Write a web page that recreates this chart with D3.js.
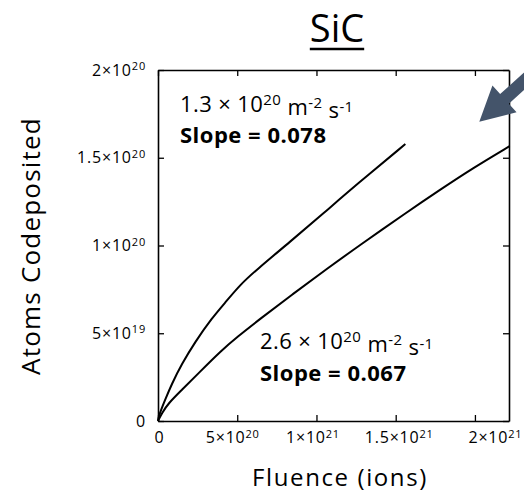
<!DOCTYPE html>
<html>
<head>
<meta charset="utf-8">
<script src="https://cdn.jsdelivr.net/npm/d3@7"></script>
<style>
  body { margin: 0; background: #fff; }
  svg { font-family: "Open Sans", sans-serif; }
</style>
</head>
<body>
<div id="chart"></div>
<script>
// data (fluence in ions, atoms codeposited)
const fluenceLow = [0, 0.02e20, 0.063e20, 0.189e20, 0.441e20, 0.863e20, 1.494e20, 2.332e20, 3.385e20, 4.33e20, 5.17e20, 6.22e20, 8.32e20, 10.42e20, 12.62e20, 15.61e20];
const atomsLow   = [0, 1.2e18, 2.8e18, 6.25e18, 11.9e18, 21.0e18, 32.4e18, 44.9e18, 58.5e18, 68.4e18, 77.5e18, 86.2e18, 102.0e18, 118.2e18, 135.4e18, 157.8e18];

const fluenceHigh = [0, 0.252e20, 0.649e20, 1.494e20, 2.54e20, 4.015e20, 4.96e20, 6.43e20, 8.53e20, 10.63e20, 12.73e20, 15.68e20, 17.77e20, 19.87e20, 22.19e20];
const atomsHigh   = [0, 4.55e18, 10.06e18, 17.6e18, 27.1e18, 40.3e18, 47.6e18, 58.1e18, 72.5e18, 86.5e18, 100.2e18, 118.8e18, 131.6e18, 144.1e18, 156.6e18];

const xTicks = [0, 5e20, 1e21, 1.5e21, 2e21];
const yTicks = [0, 5e19, 1e20, 1.5e20, 2e20];

const fluxLabels = ["1.3", "2.6"];
const slopeLabels = ["0.078", "0.067"];

const W = 524, H = 492;
const margin = {top: 70, right: 15, bottom: 71, left: 158};
const width = W - margin.left - margin.right,
      height = H - margin.top - margin.bottom;

const svg = d3.select("#chart").append("svg")
  .attr("width", W)
  .attr("height", H);

const g = svg.append("g")
  .attr("transform", `translate(${margin.left},${margin.top})`);

const x = d3.scaleLinear().domain([0, 2.215e21]).range([0, width]);
const y = d3.scaleLinear().domain([0, 2e20]).range([height, 0]);

// label like 1.5×10^20 with a raised exponent
function sciLabel(sel) {
  sel.each(function(d) {
    const t = d3.select(this).text(null);
    if (d === 0) { t.text("0"); return; }
    const e = Math.floor(Math.log10(d) + 1e-9);
    const m = +(d / Math.pow(10, e)).toFixed(2);
    t.append("tspan").text(m + "×10");
    t.append("tspan").attr("dy", "-0.5em").attr("font-size", "11px").text(e);
  });
}

// axes, ticks inside on all four sides
const xAxis = g.append("g")
  .attr("transform", `translate(0,${height})`)
  .call(d3.axisBottom(x).tickValues(xTicks).tickSize(-6).tickSizeOuter(0).tickPadding(11));
const yAxis = g.append("g")
  .call(d3.axisLeft(y).tickValues(yTicks).tickSize(-6).tickSizeOuter(0).tickPadding(12));
const topAxis = g.append("g")
  .call(d3.axisTop(x).tickValues(xTicks).tickSize(-6).tickSizeOuter(0).tickFormat(""));
const rightAxis = g.append("g")
  .attr("transform", `translate(${width},0)`)
  .call(d3.axisRight(y).tickValues(yTicks).tickSize(-6).tickSizeOuter(0).tickFormat(""));

[xAxis, yAxis, topAxis, rightAxis].forEach(a => {
  a.attr("font-family", null).attr("font-size", null);
  a.select(".domain").attr("stroke", "#000").attr("stroke-width", 1.6);
  a.selectAll(".tick line").attr("stroke", "#000").attr("stroke-width", 1.3);
});

xAxis.selectAll(".tick text").call(sciLabel)
  .attr("font-size", "16px").attr("fill", "#000").attr("letter-spacing", "0.8px");
yAxis.selectAll(".tick text").call(sciLabel)
  .attr("font-size", "16px").attr("fill", "#000").attr("letter-spacing", "0.8px");

// hand placed labels in the original sit a little off their ticks
const xNudge = [1, -5, -4, 3, 20];
xAxis.selectAll(".tick text").attr("dx", (d, i) => xNudge[i]);

// curves
const line = d3.line()
  .x(d => x(d[0]))
  .y(d => y(d[1]))
  .curve(d3.curveBasis);

const series = [
  d3.zip(fluenceLow, atomsLow),
  d3.zip(fluenceHigh, atomsHigh)
];

g.selectAll(".curve")
  .data(series)
  .join("path")
  .attr("class", "curve")
  .attr("d", line)
  .attr("fill", "none")
  .attr("stroke", "#000")
  .attr("stroke-width", 2);

// annotations
function fluxText(xp, yp, flux) {
  const t = svg.append("text")
    .attr("x", xp).attr("y", yp)
    .attr("font-size", "22px").attr("letter-spacing", "0.4px").attr("fill", "#000");
  t.append("tspan").text(flux + " × 10");
  t.append("tspan").attr("dy", "-0.45em").attr("font-size", "15px").text("20");
  t.append("tspan").attr("dy", "0.45em").text(" m");
  t.append("tspan").attr("dy", "-0.45em").attr("font-size", "15px").text("-2");
  t.append("tspan").attr("dy", "0.45em").text(" s");
  t.append("tspan").attr("dy", "-0.45em").attr("font-size", "15px").text("-1");
}
function slopeText(xp, yp, s) {
  svg.append("text")
    .attr("x", xp).attr("y", yp)
    .attr("font-size", "22px").attr("letter-spacing", "0.5px")
    .attr("font-weight", "bold").attr("fill", "#000")
    .text("Slope = " + s);
}
fluxText(180, 112, fluxLabels[0]);
slopeText(180, 143, slopeLabels[0]);
fluxText(260, 349, fluxLabels[1]);
slopeText(260, 381, slopeLabels[1]);

// title, underlined
const title = svg.append("text")
  .attr("x", 337).attr("y", 42)
  .attr("text-anchor", "middle")
  .attr("font-size", "38px").attr("fill", "#000")
  .text("SiC");
const tb = title.node().getBBox();
svg.append("line")
  .attr("x1", tb.x).attr("x2", tb.x + tb.width)
  .attr("y1", 49).attr("y2", 49)
  .attr("stroke", "#000").attr("stroke-width", 2.5);

// axis titles
svg.append("text")
  .attr("x", 340).attr("y", 486)
  .attr("text-anchor", "middle")
  .attr("font-size", "24px").attr("letter-spacing", "1.6px").attr("fill", "#000")
  .text("Fluence (ions)");

svg.append("text")
  .attr("transform", "translate(40,246) rotate(-90)")
  .attr("text-anchor", "middle")
  .attr("font-size", "26px").attr("letter-spacing", "1.2px").attr("fill", "#000")
  .text("Atoms Codeposited");

// pointer arrow at the top right
const tip = [479.3, 121.7], dir = [-0.741, 0.670], nrm = [0.670, 0.741];
const headLen = 34, headHalf = 18, shaftHalf = 6.5, tailLen = 90;
const P = (a, b) => [tip[0] - dir[0] * a + nrm[0] * b, tip[1] - dir[1] * a + nrm[1] * b];
svg.append("path")
  .attr("d", d3.line()([
    tip, P(headLen, headHalf), P(headLen, shaftHalf), P(tailLen, shaftHalf),
    P(tailLen, -shaftHalf), P(headLen, -shaftHalf), P(headLen, -headHalf)
  ]) + "Z")
  .attr("fill", "#44546A");
</script>
</body>
</html>
